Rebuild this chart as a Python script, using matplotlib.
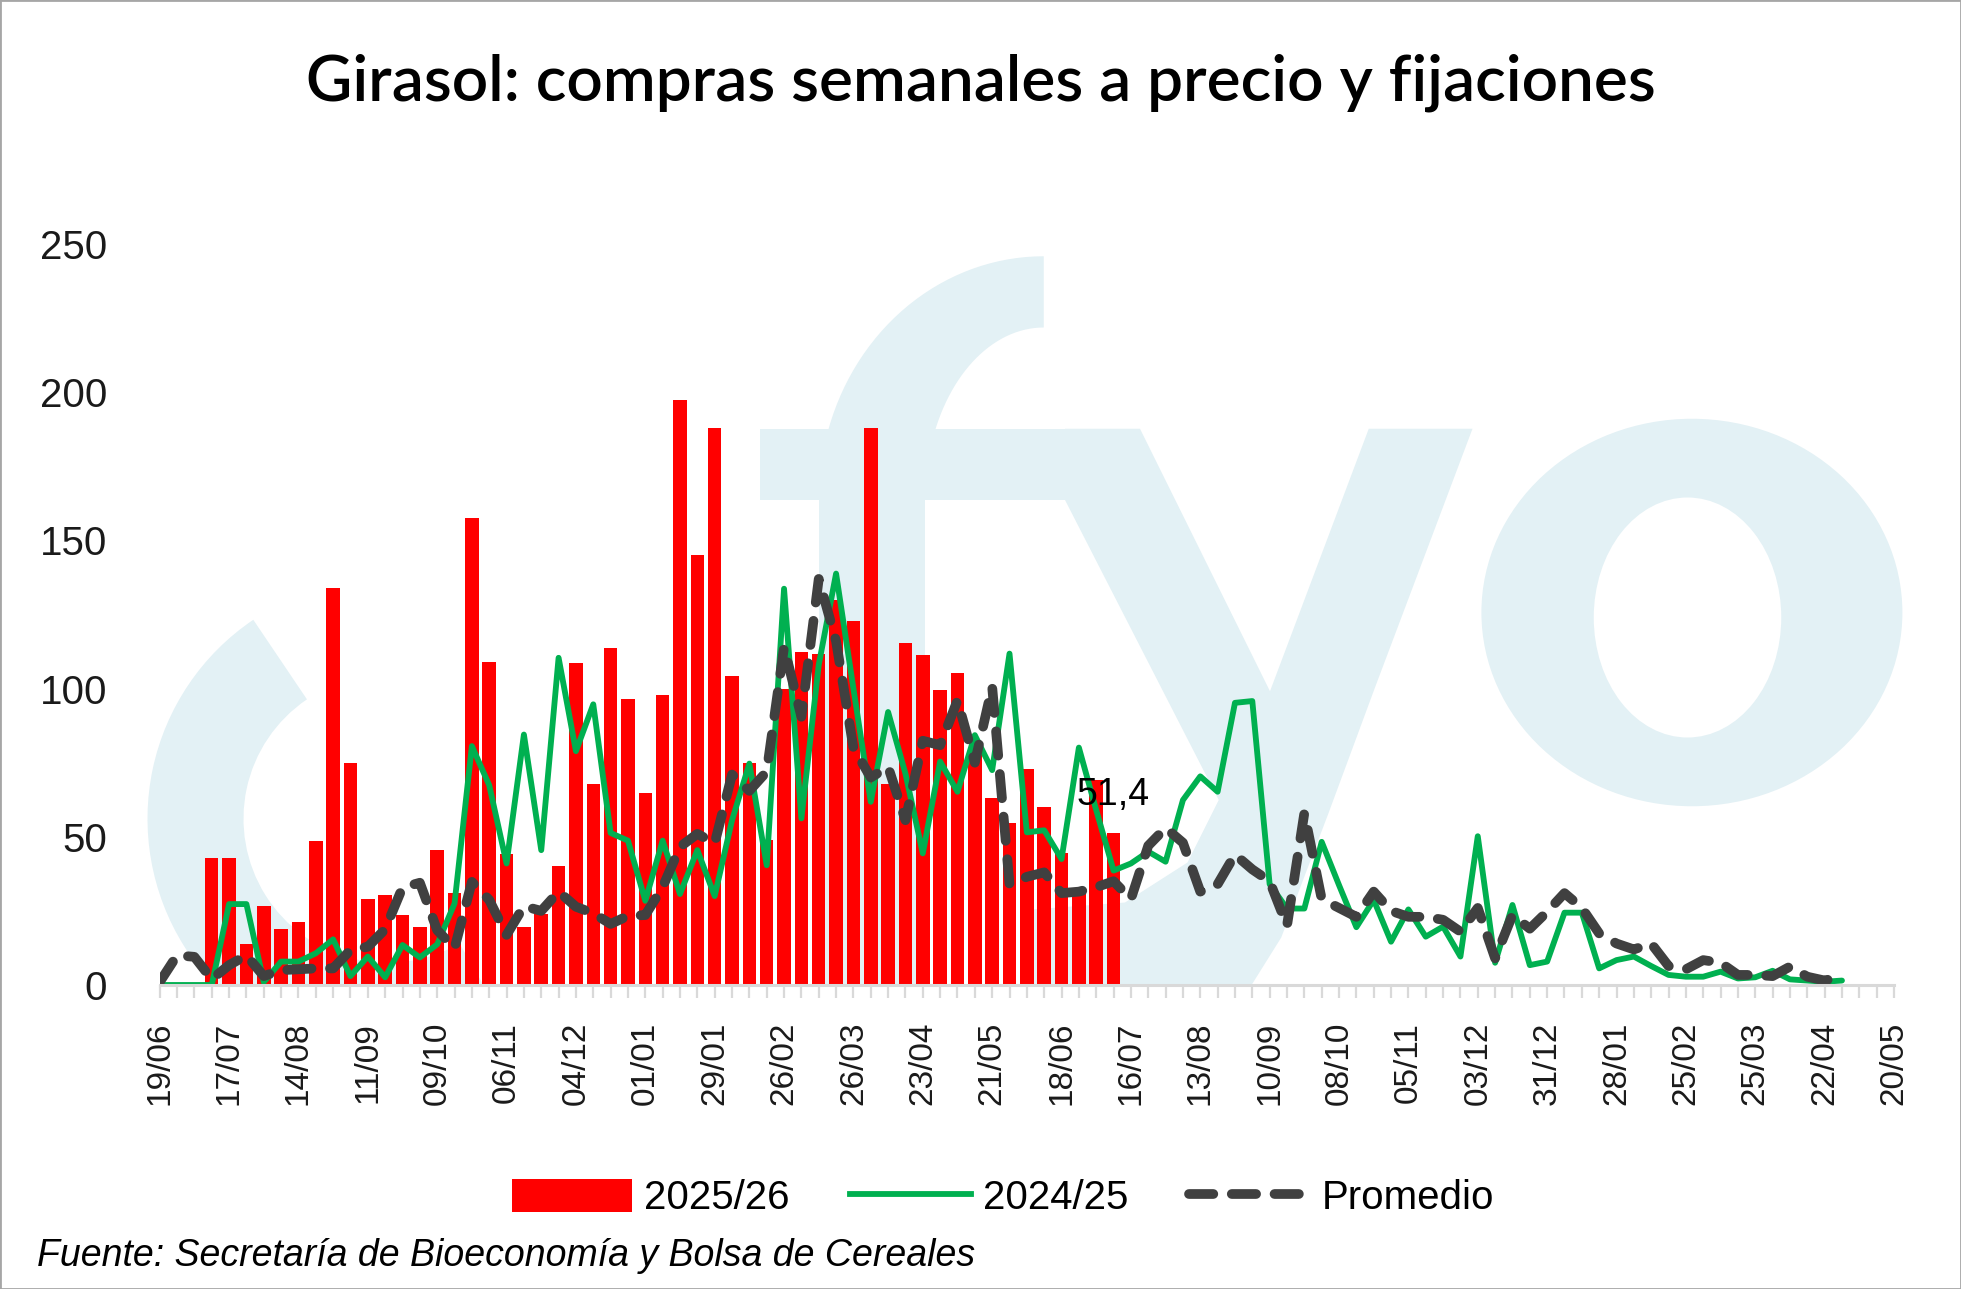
import numpy as np
import matplotlib
matplotlib.use("Agg")
import matplotlib.pyplot as plt
from matplotlib.patches import Polygon, Ellipse, Wedge, Rectangle, Patch
from matplotlib.lines import Line2D
from matplotlib.transforms import IdentityTransform

# semanas: 0 = 19/06, una etiqueta cada 4 semanas (101 posiciones)
week_labels = ["19/06", "17/07", "14/08", "11/09", "09/10", "06/11", "04/12",
               "01/01", "29/01", "26/02", "26/03", "23/04", "21/05", "18/06",
               "16/07", "13/08", "10/09", "08/10", "05/11", "03/12", "31/12",
               "28/01", "25/02", "25/03", "22/04", "20/05"]

# 2025/26 (barras), semanas 0..55
compras_2526 = [0, 0, 0,
                43, 43, 14, 26.5, 19, 21.3, 48.6, 134, 75, 29,
                30.5, 23.7, 19.6, 45.4, 31.2, 157.5, 109, 44.3, 19.6, 24,
                40.2, 108.6, 67.8, 113.8, 96.5, 64.7, 98, 197.3, 145, 188,
                104.3, 74.9, 48.9, 100, 112.4, 111.8, 130, 122.7, 188, 67.9,
                115.4, 111.2, 99.4, 105.3, 80, 63, 54.5, 72.9, 60, 44.5,
                31, 69.3, 51.4]

# 2024/25, semanas 0..97
compras_2425 = [0, 0, 0, 0, 27.3, 27.3, 1, 7.9, 7.9, 10.7,
                15.4, 3, 9.6, 2.6, 13.5, 9.3, 13.7, 27.5, 80.6, 67.4,
                41, 84.5, 45.5, 110.4, 78.9, 94.7, 51.3, 48.7, 28.4, 48.7,
                30.7, 45.5, 30, 55.6, 74.7, 40.4, 133.7, 56.2, 108, 138.8,
                100, 61.8, 92.1, 71.3, 44.4, 75.4, 65.2, 84.3, 72.5, 111.8,
                51.5, 52.2, 42.5, 80.1, 59, 38.6, 41, 45, 41.6, 62.4,
                70.4, 65.2, 95.2, 95.8, 34, 25.8, 25.8, 48.3, 33.7, 19.5,
                28.7, 14.6, 25.5, 16.3, 19.7, 9.6, 50.2, 7.5, 27, 6.7,
                7.9, 24.4, 24.4, 5.6, 8.4, 9.6, 6.4, 3.4, 2.8, 2.8,
                4.5, 2.2, 2.6, 4.8, 1.9, 1.5, 1.1, 1.5]

# Promedio, semanas 0..97
promedio = [1, 10, 9.5, 2, 6.7, 10, 3, 5, 5.3, 5.6,
            5.6, 11.8, 12.9, 18.8, 32.9, 34.5, 18.5, 12.4, 34.8, 28.7,
            16.9, 26.6, 25, 31.5, 26.4, 24.2, 20.6, 23.3, 23.6, 33,
            46.6, 51, 47.8, 71, 65.5, 72, 114, 90.5, 137, 116,
            80, 70, 73.6, 55.6, 82.4, 80.9, 96, 75, 100.6, 34,
            36.5, 38, 31, 31.5, 33, 35, 29, 47, 53, 48,
            31.5, 34, 44, 39, 35, 20, 58, 29, 26, 23,
            31.5, 25, 23, 23, 22, 18, 26, 9, 23.6, 19,
            24.7, 31, 26, 17.4, 14, 12, 14, 6.4, 5.3, 8.4,
            7.5, 3.4, 3.4, 3, 6.2, 2.8, 1.5, 3]

W, H = 1961, 1289
NARROW = ["Liberation Sans Narrow", "Liberation Sans", "DejaVu Sans"]
WATER = "#E3F1F5"
DASH = (0, (2.5, 1.9))

fig = plt.figure(figsize=(W / 100, H / 100), dpi=100)
ax = fig.add_axes([159.7 / W, 304 / H, (1894 - 159.7) / W, (985 - 244) / H])

# marca de agua (coordenadas en pixeles, y hacia abajo)
def up(y):
    return H - y

pix = IdentityTransform()
clip = Rectangle((147, up(985)), 1905 - 147, 985 - 244, transform=pix)
water = [
    Wedge((387.5, up(818.75)), 240, 124, 300, width=96),
    Rectangle((818.75, up(1000)), 106.25, 500),
    Rectangle((760, up(500)), 305, 71.25),
]
t = np.linspace(np.pi / 2, np.pi, 40)
outer = np.c_[1043.75 + 225 * np.cos(t), up(500) + 243.75 * np.sin(t)]
inner = np.c_[1043.75 + 118.75 * np.cos(t[::-1]), up(500) + 172.5 * np.sin(t[::-1])]
water.append(Polygon(np.vstack([outer, inner])))
y_pts = [(852, 343), (912, 343), (1016, 553), (1095, 343), (1178, 343),
         (1100, 550), (1063, 650), (1044, 700), (1025, 750), (1000, 790),
         (1000, 800), (820, 800), (820, 728), (900, 722), (950, 690),
         (975, 640), (852, 400)]
water.append(Polygon([(1.25 * x, up(1.25 * y)) for x, y in y_pts]))
water.append(Ellipse((1691.9, up(612.5)), 421, 387.5))
hole = Ellipse((1687.5, up(617.5)), 187.5, 240)
for p in water + [hole]:
    p.set_transform(pix)
    p.set_facecolor("white" if p is hole else WATER)
    p.set_edgecolor("none")
    p.set_zorder(0.6 if p is hole else 0.5)
    ax.add_artist(p)
    p.set_clip_path(clip)

bar_weeks = np.arange(len(compras_2526))
ax.bar(bar_weeks, compras_2526, width=0.78, color="#FF0000", zorder=2)

line_weeks = np.arange(len(compras_2425))
ax.plot(line_weeks, compras_2425, color="#00B050", lw=4.2,
        solid_joinstyle="round", solid_capstyle="round", zorder=3)
ax.plot(np.arange(len(promedio)), promedio, color="#404040", lw=7,
        linestyle=DASH, dash_capstyle="round",
        dash_joinstyle="round", zorder=4)

last = len(compras_2526) - 1
ax.annotate(f"{compras_2526[last]:.1f}".replace(".", ","),
            (bar_weeks[last], compras_2526[last]), xytext=(0, 20),
            textcoords="offset points", ha="center", va="baseline",
            fontsize=27, family=NARROW, color="black", zorder=5)

ax.set_xlim(0, 100)
ax.set_ylim(0, 250)
ax.set_yticks(np.arange(0, 251, 50))
xt_labels = [""] * 101
xt_labels[::4] = week_labels
ax.set_xticks(np.arange(101))
ax.set_xticklabels(xt_labels, rotation=90, family=NARROW, fontsize=24,
                   color="#1a1a1a")
for lab in ax.get_yticklabels():
    lab.set_family(NARROW)
    lab.set_fontsize(29)
    lab.set_color("#1a1a1a")
ax.tick_params(axis="x", length=9.5, width=1.6, color="#D9D9D9", pad=17)
ax.tick_params(axis="y", length=0, pad=38)
for side in ["top", "right", "left"]:
    ax.spines[side].set_visible(False)
ax.spines["bottom"].set_color("#D9D9D9")
ax.spines["bottom"].set_linewidth(2.2)
ax.spines["bottom"].set_zorder(6)
ax.set_facecolor("none")

fig.text(0.5, 1 - 100 / H, "Girasol: compras semanales a precio y fijaciones",
         ha="center", va="baseline", fontsize=46, family="Lato",
         fontweight="semibold", color="black")

handles = [
    Patch(facecolor="#FF0000", edgecolor="none"),
    Line2D([], [], color="#00B050", lw=4.2),
    Line2D([], [], color="#404040", lw=7, linestyle=DASH,
           dash_capstyle="round"),
]
fig.legend(handles, ["2025/26", "2024/25", "Promedio"], loc="center",
           bbox_to_anchor=(1003 / W, 1 - 1198 / H), ncol=3, frameon=False,
           prop={"family": NARROW, "size": 29}, handlelength=3.0,
           handleheight=0.9, handletextpad=0.3, columnspacing=1.5)

fig.text(37 / W, 1 - 1256 / H,
         "Fuente: Secretaría de Bioeconomía y Bolsa de Cereales",
         ha="left", va="center", fontsize=27, family=NARROW, style="italic",
         color="black")

fig.patches.append(Rectangle((0, 0), 1, 1, transform=fig.transFigure,
                             fill=False, edgecolor="#A6A6A6", lw=2))

fig.savefig("out.png", dpi=100)
